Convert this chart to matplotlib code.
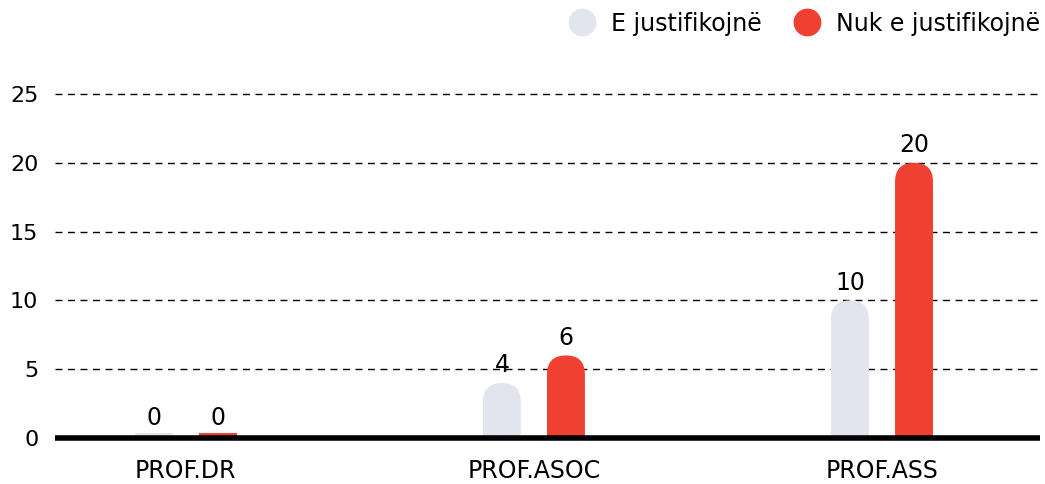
import matplotlib.pyplot as plt
from matplotlib.patches import FancyBboxPatch, Rectangle
from matplotlib.lines import Line2D

categories = ['PROF.DR', 'PROF.ASOC', 'PROF.ASS']
justified = [0, 4, 10]
not_justified = [0, 6, 20]
series_names = ['E justifikojnë', 'Nuk e justifikojnë']
colors = ['#E3E5EE', '#EF4031']
yticks = [0, 5, 10, 15, 20, 25]

W, H = 1045, 484
fig = plt.figure(figsize=(W / 100, H / 100), dpi=100)
plt.rcParams['font.family'] = ['DejaVu Sans']

# axes placed in pixels: y=0 at 438px, 13.76 px per unit
px_per_y = 13.76
ymax = 26
ax = fig.add_axes([55 / W, 46 / H, 985 / W, ymax * px_per_y / H])
ax.set_ylim(0, ymax)
x0, x1 = -0.376, 2.454
ax.set_xlim(x0, x1)
px_per_x = 985 / (x1 - x0)

for s in ax.spines.values():
    s.set_visible(False)

for t in yticks[1:]:
    ax.axhline(t, color='black', lw=1, ls=(0, (5, 4)), zorder=0)
ax.axhline(0, color='black', lw=4, zorder=5, solid_capstyle='butt', clip_on=False)

width = 0.109
offset = 0.092
aspect = px_per_x / px_per_y
r_x = width / 2
r_y = r_x * aspect

for i, (vals, col) in enumerate(zip([justified, not_justified], colors)):
    pos = [k + (i * 2 - 1) * offset for k in range(len(categories))]
    bars = ax.bar(pos, vals, width=width, color=col)
    for b, v in zip(bars, vals):
        b.set_visible(False)
        bx = b.get_x()
        if v > r_y:
            p = FancyBboxPatch((bx, -r_y), width, v + r_y,
                               boxstyle=f'round,pad=0,rounding_size={r_x}',
                               mutation_aspect=aspect, fc=col, ec='none', zorder=2)
        else:
            # zero values: thin sliver just above the baseline
            p = Rectangle((bx, 0), width, max(v, 0.33), fc=col, ec='none', zorder=2)
        ax.add_patch(p)
        ax.annotate(str(v), (b.get_x() + width / 2, max(v, 0.2)), xytext=(0, 4),
                    textcoords='offset points', ha='center', va='bottom', fontsize=17)

ax.set_yticks(yticks)
ax.set_xticks(range(len(categories)))
ax.set_xticklabels(categories)
ax.tick_params(axis='y', length=0, pad=12, labelsize=16)
ax.tick_params(axis='x', length=0, pad=15, labelsize=17)

handles = [Line2D([], [], ls='none', marker='o', markersize=19, color=c) for c in colors]
fig.legend(handles, series_names, loc='upper right', bbox_to_anchor=(1.016, 1.02), ncol=2,
           frameon=False, fontsize=17, handletextpad=0.25, columnspacing=0.9)

fig.savefig('out.png', dpi=100)
